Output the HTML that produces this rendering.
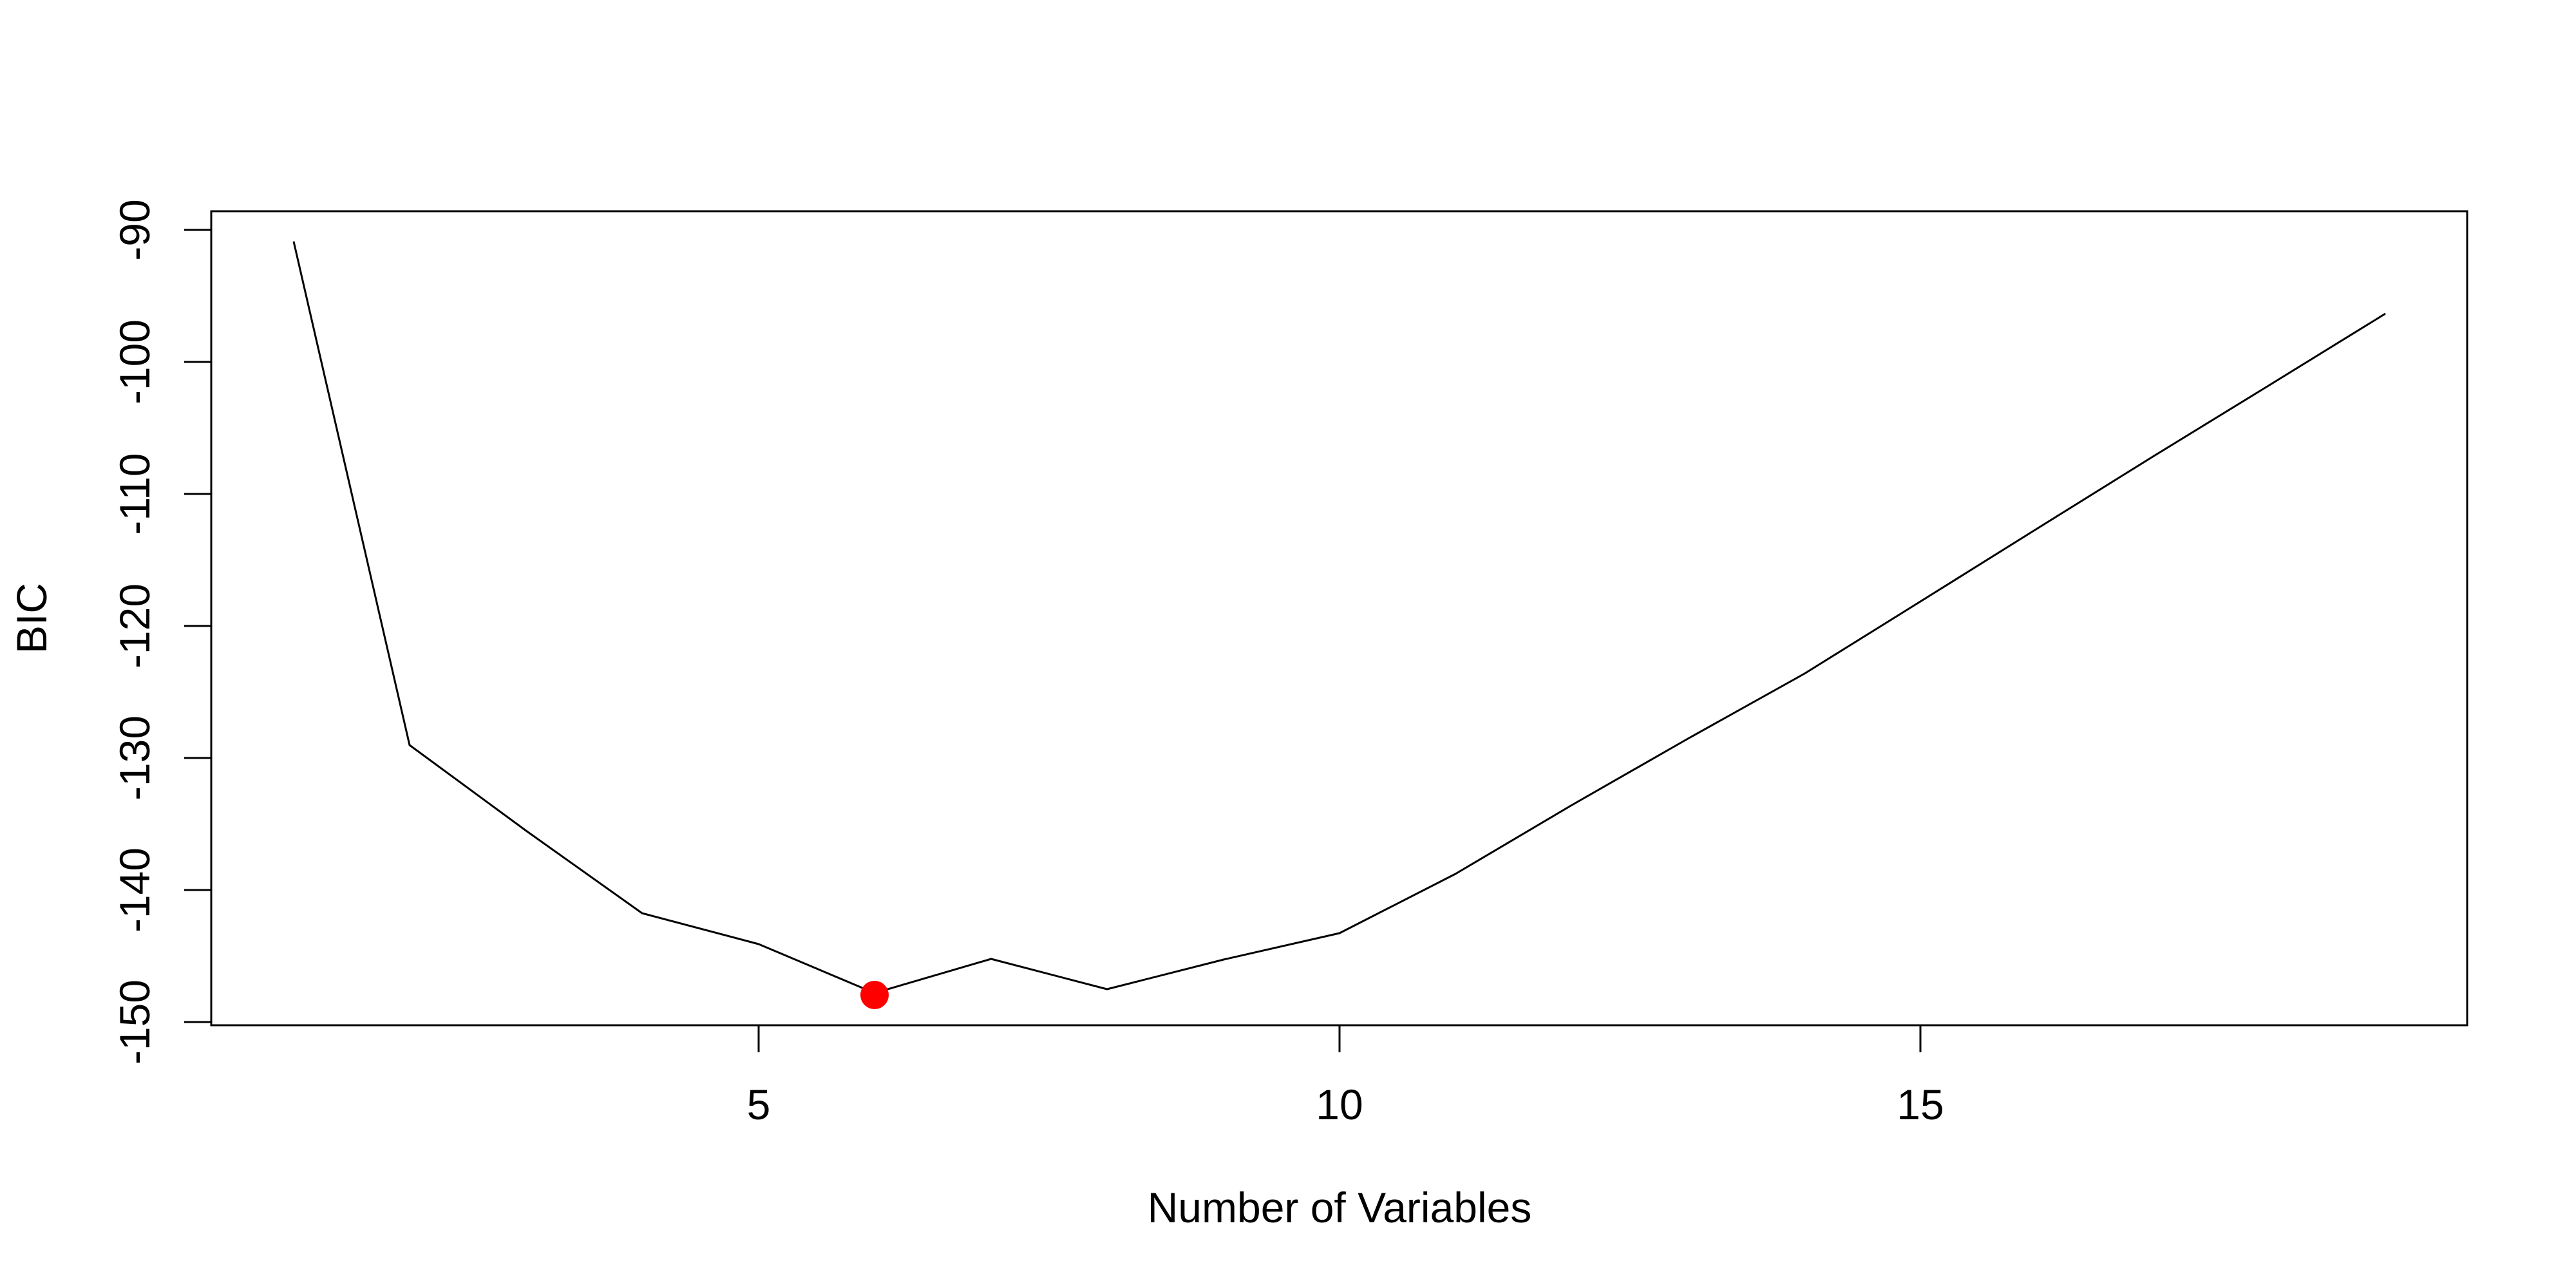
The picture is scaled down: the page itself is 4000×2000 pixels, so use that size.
<!DOCTYPE html>
<html><head><meta charset="utf-8"><style>html,body{margin:0;padding:0;background:#fff}svg{display:block}</style></head>
<body>
<svg width="4000" height="2000" viewBox="0 0 4000 2000" xmlns="http://www.w3.org/2000/svg" font-family="Liberation Sans, Arial, sans-serif">
<rect width="4000" height="2000" fill="#fff"/>
<rect x="328" y="328" width="3503" height="1264" fill="none" stroke="#000" stroke-width="3"/>
<g stroke="#000" stroke-width="3">
<line x1="1178" y1="1592" x2="1178" y2="1634"/>
<line x1="2080" y1="1592" x2="2080" y2="1634"/>
<line x1="2982" y1="1592" x2="2982" y2="1634"/>
<line x1="328" y1="357" x2="286" y2="357"/>
<line x1="328" y1="562" x2="286" y2="562"/>
<line x1="328" y1="767" x2="286" y2="767"/>
<line x1="328" y1="972" x2="286" y2="972"/>
<line x1="328" y1="1177" x2="286" y2="1177"/>
<line x1="328" y1="1382" x2="286" y2="1382"/>
<line x1="328" y1="1587" x2="286" y2="1587"/>
</g>
<g font-size="66" text-anchor="middle" fill="#000">
<text x="1178" y="1738">5</text>
<text x="2080" y="1738">10</text>
<text x="2982" y="1738">15</text>
<g transform="translate(232,0)">
<text transform="translate(0,357) rotate(-90)">-90</text>
<text transform="translate(0,562) rotate(-90)">-100</text>
<text transform="translate(0,767) rotate(-90)">-110</text>
<text transform="translate(0,972) rotate(-90)">-120</text>
<text transform="translate(0,1177) rotate(-90)">-130</text>
<text transform="translate(0,1382) rotate(-90)">-140</text>
<text transform="translate(0,1587) rotate(-90)">-150</text>
</g>
<text x="2080" y="1898">Number of Variables</text>
<text transform="translate(72,960) rotate(-90)">BIC</text>
</g>
<polyline fill="none" stroke="#000" stroke-width="3" stroke-linejoin="round"
points="456,375 636,1157 817,1290 997,1418 1178,1466 1358,1542 1539,1489 1719,1536 1900,1490 2080,1449 2260,1357 2441,1250 2621,1147 2802,1046 2982,934 3163,821 3343,709 3524,598 3704,487"/>
<circle cx="1358" cy="1545" r="22" fill="#ff0000"/>
</svg>
</body></html>
